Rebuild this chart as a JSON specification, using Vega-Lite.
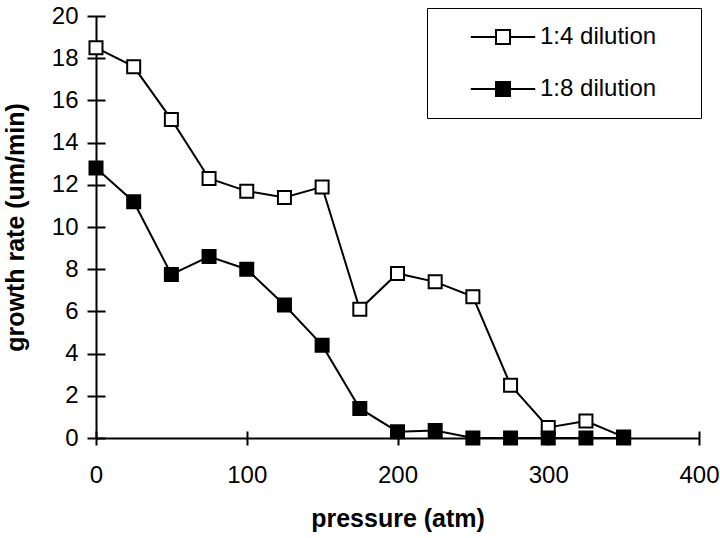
{
  "$schema": "https://vega.github.io/schema/vega-lite/v6.json",
  "autosize": "none",
  "width": 603,
  "height": 422,
  "padding": {"left": 96, "top": 16, "right": 21, "bottom": 100},
  "background": "white",
  "config": {
    "font": "Liberation Sans",
    "view": {"stroke": null},
    "axis": {"grid": false, "labelColor": "black", "titleColor": "black", "labelFont": "Liberation Sans", "titleFont": "Liberation Sans"},
    "legend": {"labelFont": "Liberation Sans"}
  },
  "data": {
    "values": [
      {"pressure": 0, "rate": 18.5, "series": "1:4 dilution"},
      {"pressure": 25, "rate": 17.6, "series": "1:4 dilution"},
      {"pressure": 50, "rate": 15.1, "series": "1:4 dilution"},
      {"pressure": 75, "rate": 12.3, "series": "1:4 dilution"},
      {"pressure": 100, "rate": 11.7, "series": "1:4 dilution"},
      {"pressure": 125, "rate": 11.4, "series": "1:4 dilution"},
      {"pressure": 150, "rate": 11.9, "series": "1:4 dilution"},
      {"pressure": 175, "rate": 6.1, "series": "1:4 dilution"},
      {"pressure": 200, "rate": 7.8, "series": "1:4 dilution"},
      {"pressure": 225, "rate": 7.4, "series": "1:4 dilution"},
      {"pressure": 250, "rate": 6.7, "series": "1:4 dilution"},
      {"pressure": 275, "rate": 2.5, "series": "1:4 dilution"},
      {"pressure": 300, "rate": 0.5, "series": "1:4 dilution"},
      {"pressure": 325, "rate": 0.8, "series": "1:4 dilution"},
      {"pressure": 350, "rate": 0.05, "series": "1:4 dilution"},
      {"pressure": 0, "rate": 12.8, "series": "1:8 dilution"},
      {"pressure": 25, "rate": 11.2, "series": "1:8 dilution"},
      {"pressure": 50, "rate": 7.75, "series": "1:8 dilution"},
      {"pressure": 75, "rate": 8.6, "series": "1:8 dilution"},
      {"pressure": 100, "rate": 8.0, "series": "1:8 dilution"},
      {"pressure": 125, "rate": 6.3, "series": "1:8 dilution"},
      {"pressure": 150, "rate": 4.4, "series": "1:8 dilution"},
      {"pressure": 175, "rate": 1.4, "series": "1:8 dilution"},
      {"pressure": 200, "rate": 0.3, "series": "1:8 dilution"},
      {"pressure": 225, "rate": 0.35, "series": "1:8 dilution"},
      {"pressure": 250, "rate": 0, "series": "1:8 dilution"},
      {"pressure": 275, "rate": 0, "series": "1:8 dilution"},
      {"pressure": 300, "rate": 0, "series": "1:8 dilution"},
      {"pressure": 325, "rate": 0, "series": "1:8 dilution"},
      {"pressure": 350, "rate": 0, "series": "1:8 dilution"}
    ]
  },
  "resolve": {"axis": {"x": "independent", "y": "independent"}},
  "layer": [
    {
      "mark": {"type": "line", "color": "black", "strokeWidth": 2},
      "encoding": {
        "x": {
          "field": "pressure", "type": "quantitative",
          "scale": {"domain": [0, 400], "nice": false, "zero": false},
          "axis": {"orient": "bottom", "title": "pressure (atm)", "titleFontSize": 25, "titleFontWeight": "bold", "titlePadding": 68,
                   "domain": true, "domainColor": "black", "domainWidth": 2, "ticks": false, "labels": false}
        },
        "y": {
          "field": "rate", "type": "quantitative",
          "scale": {"domain": [0, 20], "nice": false},
          "axis": {"orient": "left", "title": "growth rate (um/min)", "titleFontSize": 25, "titleFontWeight": "bold", "titlePadding": 68,
                   "domain": true, "domainColor": "black", "domainWidth": 2, "ticks": false, "labels": false}
        },
        "detail": {"field": "series"}
      }
    },
    {
      "mark": {"type": "point", "shape": "square", "size": 169, "filled": true, "stroke": "black", "strokeWidth": 2, "opacity": 1},
      "encoding": {
        "x": {
          "field": "pressure", "type": "quantitative",
          "axis": {"orient": "bottom", "title": null, "offset": -7, "tickSize": 14, "tickWidth": 2, "tickColor": "black",
                   "domain": false, "values": [0, 100, 200, 300, 400], "labelFontSize": 24, "labelPadding": 18, "labelFlush": false}
        },
        "y": {
          "field": "rate", "type": "quantitative",
          "axis": {"orient": "left", "title": null, "offset": -9, "tickSize": 18, "tickWidth": 2, "tickColor": "black",
                   "domain": false, "values": [0, 2, 4, 6, 8, 10, 12, 14, 16, 18, 20], "labelFontSize": 24, "labelPadding": 9}
        },
        "fill": {
          "field": "series", "type": "nominal",
          "scale": {"domain": ["1:4 dilution", "1:8 dilution"], "range": ["white", "black"]},
          "legend": {
            "title": null, "orient": "none", "legendX": 331, "legendY": -8,
            "strokeColor": "black", "padding": 17, "fillColor": "white",
            "symbolType": "M-4.6,0H-1M1,0H4.6M-1,-1H1V1H-1ZM25.2,0", "symbolSize": 196,
            "symbolStrokeColor": "black", "symbolStrokeWidth": 2, "symbolOffset": 47,
            "labelFontSize": 24, "labelColor": "black", "labelOffset": 25, "rowPadding": 28,
            "encode": {"legend": {"update": {"strokeWidth": {"value": 2}}}}
          }
        }
      }
    }
  ]
}
